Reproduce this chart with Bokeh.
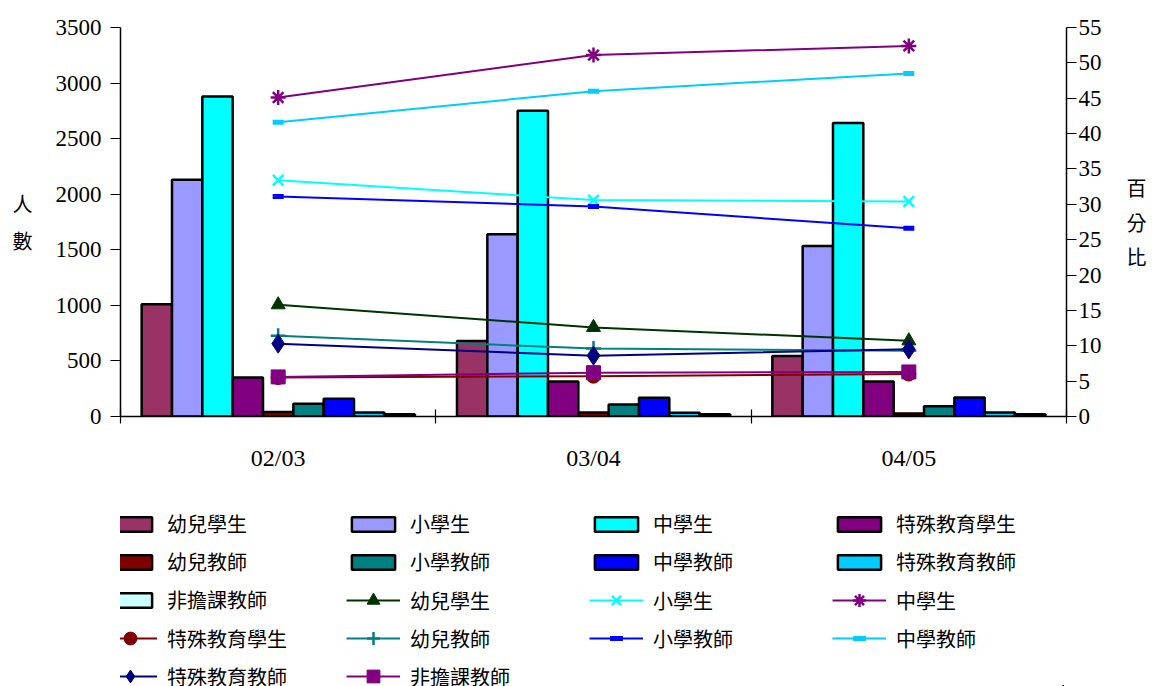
from bokeh.plotting import figure
from bokeh.layouts import column
from bokeh.models import (Range1d, LinearAxis, FixedTicker,
                          Legend, LegendItem, ColumnDataSource)
from bokeh.transform import dodge
from bokeh.embed import file_html
from bokeh.resources import INLINE

# ---------------- data ----------------
years = ["02/03", "03/04", "04/05"]

bar_names = ["幼兒學生", "小學生", "中學生", "特殊教育學生", "幼兒教師",
             "小學教師", "中學教師", "特殊教育教師", "非擔課教師"]
kg_students = [1010, 680, 545]
primary_students = [2130, 1640, 1535]
secondary_students = [2880, 2750, 2640]
special_students = [350, 315, 315]
kg_teachers = [40, 35, 28]
primary_teachers = [114, 108, 93]
secondary_teachers = [159, 168, 171]
special_teachers = [36, 33, 36]
nonteaching_teachers = [20, 21, 21]
bar_values = [kg_students, primary_students, secondary_students, special_students,
              kg_teachers, primary_teachers, secondary_teachers, special_teachers,
              nonteaching_teachers]
bar_colors = ["#993366", "#9999FF", "#00FFFF", "#800080", "#800000",
              "#008080", "#0000FF", "#00CCFF", "#CCFFFF"]

line_names = ["幼兒學生", "小學生", "中學生", "特殊教育學生", "幼兒教師",
              "小學教師", "中學教師", "特殊教育教師", "非擔課教師"]
kg_students_pct = [15.8, 12.6, 10.7]
primary_students_pct = [33.4, 30.6, 30.4]
secondary_students_pct = [45.1, 51.1, 52.4]
special_students_pct = [5.5, 5.7, 6.0]
kg_teachers_pct = [11.4, 9.6, 9.3]
primary_teachers_pct = [31.1, 29.7, 26.6]
secondary_teachers_pct = [41.6, 46.0, 48.5]
special_teachers_pct = [10.3, 8.6, 9.5]
nonteaching_pct = [5.6, 6.2, 6.3]
line_values = [kg_students_pct, primary_students_pct, secondary_students_pct,
               special_students_pct, kg_teachers_pct, primary_teachers_pct,
               secondary_teachers_pct, special_teachers_pct, nonteaching_pct]
line_colors = ["#003300", "#00FFFF", "#800080", "#800000", "#008080",
               "#0000FF", "#00CCFF", "#000080", "#800080"]
line_markers = ["triangle", "x", "asterisk", "circle", "cross",
                "dash", "dash", "diamond", "square"]

left_ticks = list(range(0, 3501, 500))
right_ticks = list(range(0, 56, 5))
left_title = "人\n數"
right_title = "百\n分\n比"

NUM_FONT = "Liberation Serif"
CJK_FONT = "Noto Sans CJK TC"

# category slots: year k occupies [k, k+1] on a numeric axis
centers = [k + 0.5 for k in range(len(years))]
edges = list(range(len(years) + 1))

# ---------------- chart ----------------
p = figure(x_range=Range1d(0, len(years)),
           y_range=Range1d(0, 3500),
           frame_width=946, frame_height=389,
           min_border_left=120, min_border_right=80, min_border_top=27,
           min_border_bottom=62,
           x_axis_location=None, y_axis_location="left",
           output_backend="svg", toolbar_location=None)
p.outline_line_color = None
p.xgrid.visible = False
p.ygrid.visible = False
p.extra_y_ranges = {"pct": Range1d(0, 55)}

w = 0.0962


def add_bar(fig, src, i, col):
    return fig.vbar(x=dodge("x", (i - 4) * w), top="value", width=w,
                    source=src, fill_color=col, line_color="black", line_width=2.5)


def add_marker(fig, src, mk, col, y_range_name="default"):
    kw = dict(source=src, y_range_name=y_range_name)
    if mk == "dash":
        return fig.scatter(x="x", y="value", marker="dash", size=11,
                           line_color=col, line_width=5, **kw)
    if mk in ("x", "asterisk", "cross"):
        return fig.scatter(x="x", y="value", marker=mk, size=15,
                           line_color=col, line_width=2.5, **kw)
    return fig.scatter(x="x", y="value", marker=mk, size=19 if mk == "diamond" else 14,
                       fill_color=col, line_color=col, **kw)


for i, (vals, col) in enumerate(zip(bar_values, bar_colors)):
    add_bar(p, ColumnDataSource(dict(x=centers, value=vals)), i, col)

for vals, col, mk in zip(line_values, line_colors, line_markers):
    src = ColumnDataSource(dict(x=centers, value=vals))
    p.line(x="x", y="value", source=src, y_range_name="pct", line_color=col, line_width=2)
    add_marker(p, src, mk, col, "pct")

# axes
p.yaxis.ticker = FixedTicker(ticks=left_ticks)
ax = p.yaxis[0]
ax.major_tick_in = 0
ax.major_tick_out = 10
ax.minor_tick_line_color = None
ax.axis_line_color = "black"
ax.axis_line_width = 1.5
ax.major_tick_line_width = 1.2
ax.major_label_text_font = NUM_FONT
ax.major_label_text_font_size = "23px"
ax.major_label_text_color = "black"
ax.major_label_standoff = 9

rax = LinearAxis(y_range_name="pct", ticker=FixedTicker(ticks=right_ticks),
                 major_tick_in=0, major_tick_out=10, minor_tick_line_color=None,
                 axis_line_color="black", axis_line_width=1.5, major_tick_line_width=1.2,
                 major_label_text_font=NUM_FONT, major_label_text_font_size="23px",
                 major_label_text_color="black", major_label_standoff=2)
p.add_layout(rax, "right")

has_orient = "axis_label_orientation" in LinearAxis.properties()
for a, title, so, lh in ((ax, left_title, 20, 1.25), (rax, right_title, 22, 1.2)):
    a.axis_label = title
    a.axis_label_text_font = CJK_FONT
    a.axis_label_text_font_size = "20px"
    a.axis_label_text_font_style = "normal"
    a.axis_label_text_color = "black"
    a.axis_label_text_line_height = lh
    a.axis_label_standoff = so
    if has_orient:
        a.axis_label_orientation = "horizontal"

eax = LinearAxis(ticker=FixedTicker(ticks=edges),
                 major_label_overrides={e: "" for e in edges},
                 major_tick_in=7, major_tick_out=7, minor_tick_line_color=None,
                 axis_line_color="black", axis_line_width=1.5, major_tick_line_width=1.2,
                 major_label_standoff=0)
p.add_layout(eax, "below")

cax = LinearAxis(ticker=FixedTicker(ticks=centers),
                 major_label_overrides={c: y for c, y in zip(centers, years)},
                 axis_line_color=None, major_tick_line_color=None,
                 minor_tick_line_color=None,
                 major_label_text_font=NUM_FONT, major_label_text_font_size="24px",
                 major_label_text_color="black", major_label_standoff=15)
p.add_layout(cax, "below")

# ---------------- legend panel ----------------
# legend-only figure: its renderers share the chart's data but lie outside its view
LG_H = 208
lg = figure(width=1146, height=LG_H, x_range=Range1d(-20, -10),
            y_range=Range1d(10000, 20000),
            x_axis_location=None, y_axis_location=None, min_border=0,
            output_backend="svg", toolbar_location=None)
lg.outline_line_color = None
lg.xgrid.visible = False
lg.ygrid.visible = False

entries = []   # (kind, LegendItem)
for i, (name, vals, col) in enumerate(zip(bar_names, bar_values, bar_colors)):
    r = add_bar(lg, ColumnDataSource(dict(x=centers, value=vals)), i, col)
    entries.append(("bar", LegendItem(label=name, renderers=[r])))
for name, vals, col, mk in zip(line_names, line_values, line_colors, line_markers):
    src = ColumnDataSource(dict(x=centers, value=vals))
    lr = lg.line(x="x", y="value", source=src, line_color=col, line_width=2)
    sr = add_marker(lg, src, mk, col)
    entries.append(("line", LegendItem(label=name, renderers=[lr, sr])))

NC = 4
COL_PITCH = 243
X0 = -17          # frame is aligned with the chart's frame (left border 120)
ROW0 = 46         # centre of first legend row, from the top of the legend panel
ROW_PITCH = 38
item_h = {"bar": 29, "line": 32}
glyph_h = {"bar": 18, "line": 32}

# group consecutive entries that share a row and a kind into one horizontal legend
groups = []
for k, (kind, item) in enumerate(entries):
    row, col = divmod(k, NC)
    if groups and groups[-1]["row"] == row and groups[-1]["kind"] == kind:
        groups[-1]["items"].append(item)
    else:
        groups.append(dict(row=row, col=col, kind=kind, items=[item]))

for g in groups:
    centre = ROW0 + ROW_PITCH * g["row"]
    vy = round(LG_H - (centre + item_h[g["kind"]] / 2))
    lg.add_layout(Legend(items=g["items"], orientation="horizontal",
                         location=(X0 + COL_PITCH * g["col"], vy),
                         glyph_width=54, glyph_height=glyph_h[g["kind"]],
                         label_standoff=10, label_width=170,
                         label_height=24, spacing=9,
                         label_text_font=CJK_FONT, label_text_font_size="20px",
                         label_text_color="black", border_line_color=None,
                         background_fill_alpha=0, padding=0, margin=0))

layout = column(p, lg, spacing=0)
open("out.html", "w").write(file_html(layout, INLINE))
